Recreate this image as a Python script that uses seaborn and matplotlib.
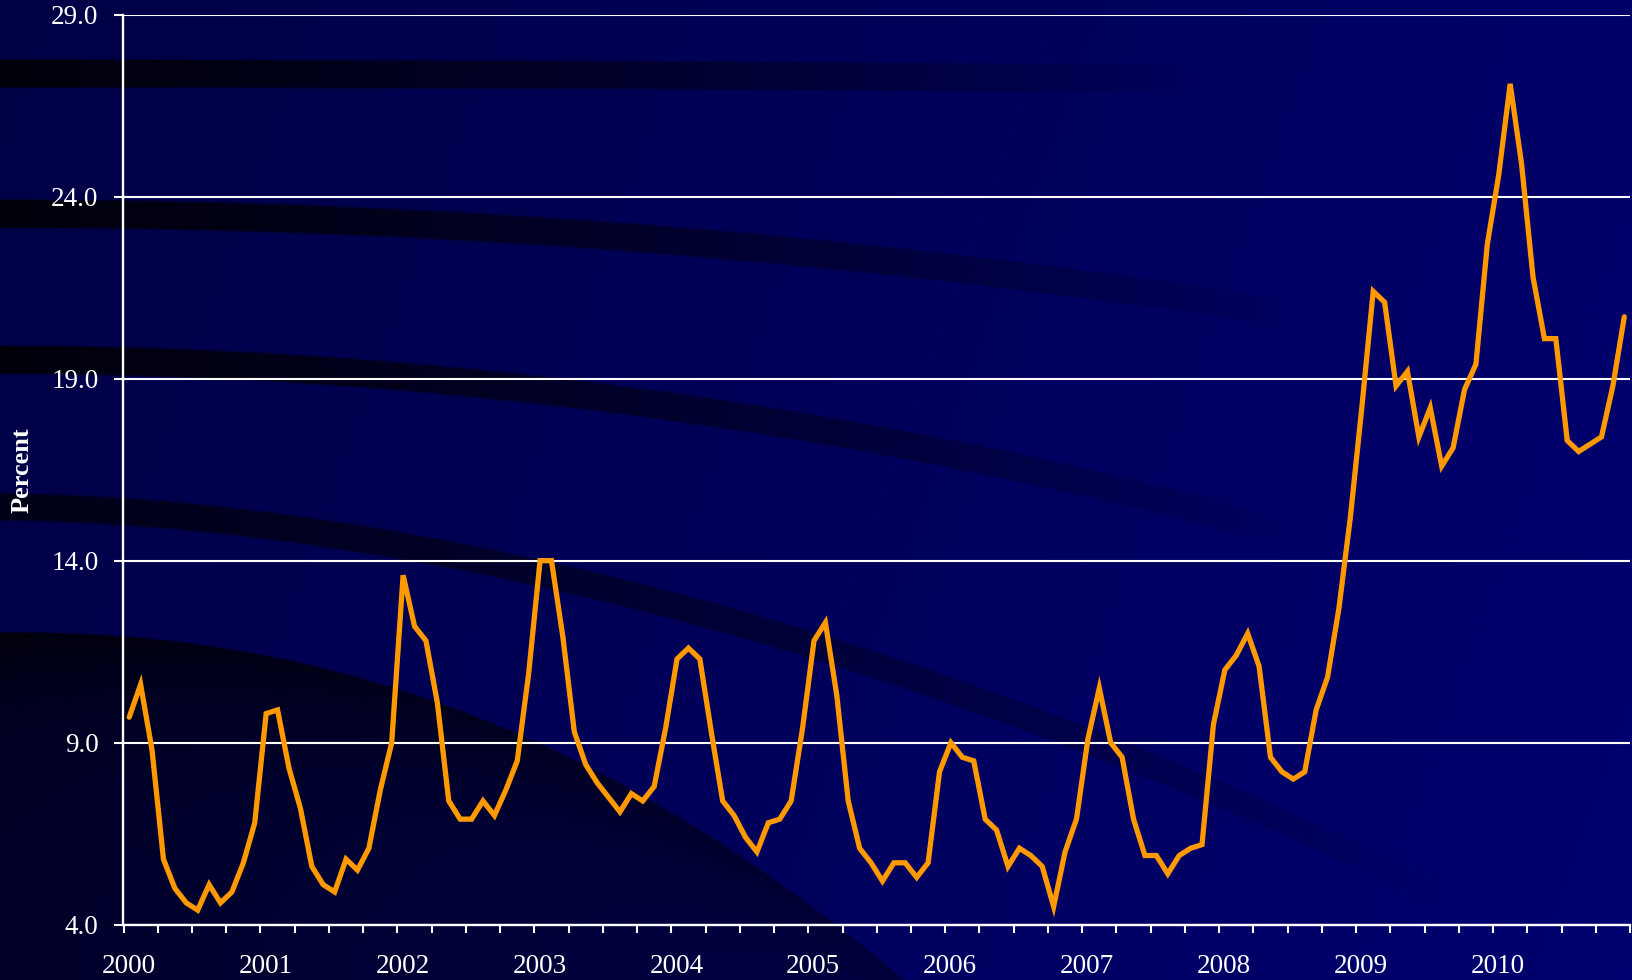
import numpy as np
import pandas as pd
import matplotlib
matplotlib.use("Agg")
import matplotlib.pyplot as plt
import matplotlib.transforms as mtransforms
import seaborn as sns

# ---------------- data (monthly, Jan 2000 - Dec 2010) ----------------
start_year = 2000
pct_2000 = [9.7, 10.6, 8.8, 5.8, 5.0, 4.6, 4.4, 5.1, 4.6, 4.9, 5.7, 6.8]
pct_2001 = [9.8, 9.9, 8.3, 7.2, 5.6, 5.1, 4.9, 5.8, 5.5, 6.1, 7.7, 9.0]
pct_2002 = [13.6, 12.2, 11.8, 10.1, 7.4, 6.9, 6.9, 7.4, 7.0, 7.7, 8.5, 10.9]
pct_2003 = [14.0, 14.0, 11.9, 9.3, 8.4, 7.9, 7.5, 7.1, 7.6, 7.4, 7.8, 9.4]
pct_2004 = [11.3, 11.6, 11.3, 9.3, 7.4, 7.0, 6.4, 6.0, 6.8, 6.9, 7.4, 9.4]
pct_2005 = [11.8, 12.3, 10.3, 7.4, 6.1, 5.7, 5.2, 5.7, 5.7, 5.3, 5.7, 8.2]
pct_2006 = [9.0, 8.6, 8.5, 6.9, 6.6, 5.6, 6.1, 5.9, 5.6, 4.5, 6.0, 6.9]
pct_2007 = [9.1, 10.5, 9.0, 8.6, 6.9, 5.9, 5.9, 5.4, 5.9, 6.1, 6.2, 9.5]
pct_2008 = [11.0, 11.4, 12.0, 11.1, 8.6, 8.2, 8.0, 8.2, 9.9, 10.8, 12.7, 15.2]
pct_2009 = [18.2, 21.4, 21.1, 18.8, 19.2, 17.4, 18.2, 16.6, 17.1, 18.7, 19.4, 22.7]
pct_2010 = [24.6, 27.1, 24.9, 21.8, 20.1, 20.1, 17.3, 17.0, 17.2, 17.4, 18.8, 20.7]

year_labels = ["2000", "2001", "2002", "2003", "2004", "2005",
               "2006", "2007", "2008", "2009", "2010"]
y_ticks = [4.0, 9.0, 14.0, 19.0, 24.0, 29.0]
y_label = "Percent"

values = (pct_2000 + pct_2001 + pct_2002 + pct_2003 + pct_2004 + pct_2005 +
          pct_2006 + pct_2007 + pct_2008 + pct_2009 + pct_2010)
month_idx = np.arange(len(values))
df = pd.DataFrame({"t": start_year + (month_idx + 0.5) / 12.0, "pct": values})

# ---------------- style ----------------
sns.set_theme(style="white")
plt.rcParams["font.family"] = ["Liberation Serif", "DejaVu Serif"]

W, H = 1633, 980
fig = plt.figure(figsize=(W / 100, H / 100), dpi=100)

# ---------------- decorative background ----------------
X, Y = np.meshgrid(np.arange(W, dtype=float), np.arange(H, dtype=float))
blue = 0.27 + 0.14 * (X / W) + 0.03 * (Y / H)


def band(y0, a, b, t, xend, strength):
    yc = y0 + a * X ** b
    d = np.abs(Y - yc)
    inside = np.clip((t / 2 - d) / 2.0 + 0.5, 0, 1)
    fade = np.clip(1 - X / xend, 0, 1) ** 0.8
    return inside * fade * strength


keep = np.ones_like(blue)
for args in [(74, 4e-6, 2.0, 28, 1200, 0.85),
             (214, 6e-5, 2.0, 28, 1300, 0.85),
             (360, 1.04e-4, 2.0, 28, 1300, 0.85),
             (507, 8e-4, 1.8, 27, 1450, 0.7)]:
    keep *= 1 - band(*args)

ye = 632 + 1.09e-4 * X ** 2.2
below = np.clip((Y - ye) / 2.0 + 0.5, 0, 1)
depth = np.clip(Y - ye, 0, None)
big_strength = (0.45 + 0.4 * np.exp(-depth / 70.0)) * np.clip(1 - X / 1150, 0, 1) ** 0.5
keep *= 1 - below * big_strength

blue = blue * keep
img = np.dstack([np.zeros_like(blue), np.zeros_like(blue), np.clip(blue, 0, 1)])

bg = fig.add_axes([0, 0, 1, 1], zorder=0)
bg.imshow(img, aspect="auto", extent=(0, W, H, 0), interpolation="bilinear")
bg.set_axis_off()

# ---------------- main axes ----------------
left_px, right_px, top_px, bottom_px = 123.5, 1630, 14.7, 924.7
ax = fig.add_axes([left_px / W, 1 - bottom_px / H,
                   (right_px - left_px) / W, (bottom_px - top_px) / H], zorder=1)
ax.set_facecolor("none")

sns.lineplot(data=df, x="t", y="pct", ax=ax, color="#FF9900",
             linewidth=3.8, solid_joinstyle="miter", zorder=3)

ax.set_xlim(start_year, start_year + len(year_labels))
ax.set_ylim(y_ticks[0], y_ticks[-1])

ax.set_yticks(y_ticks)
ax.set_yticklabels([f"{v:.1f}" for v in y_ticks])
major_x = np.arange(start_year, start_year + len(year_labels) + 1)
ax.set_xticks(major_x)
ax.set_xticklabels(year_labels + [""])
ax.set_xticks(np.arange(start_year, start_year + len(year_labels) + 0.01, 0.25), minor=True)

ax.yaxis.grid(True, color="white", linewidth=1.5)
ax.xaxis.grid(False)
for s in ["top", "right"]:
    ax.spines[s].set_visible(False)
for s in ["left", "bottom"]:
    ax.spines[s].set_color("white")
    ax.spines[s].set_linewidth(1.7)

ax.tick_params(axis="y", which="major", colors="white", direction="out",
               length=6.5, width=1.5, pad=11.5, labelsize=19.5, left=True)
ax.tick_params(axis="x", which="both", colors="white", direction="out",
               length=5.8, width=1.5, bottom=True)
ax.tick_params(axis="x", which="major", pad=15.5, labelsize=19.5)
for lab in ax.get_xticklabels():
    lab.set_transform(lab.get_transform() +
                      mtransforms.ScaledTranslation(5 / 100, 0, fig.dpi_scale_trans))

ax.set_xlabel("")
ax.set_ylabel(y_label, color="white", fontsize=19, fontweight="bold")
ax.yaxis.label.set_va("center")
ax.yaxis.set_label_coords(-0.0675, 0.5)

fig.savefig("out.png", dpi=100)
